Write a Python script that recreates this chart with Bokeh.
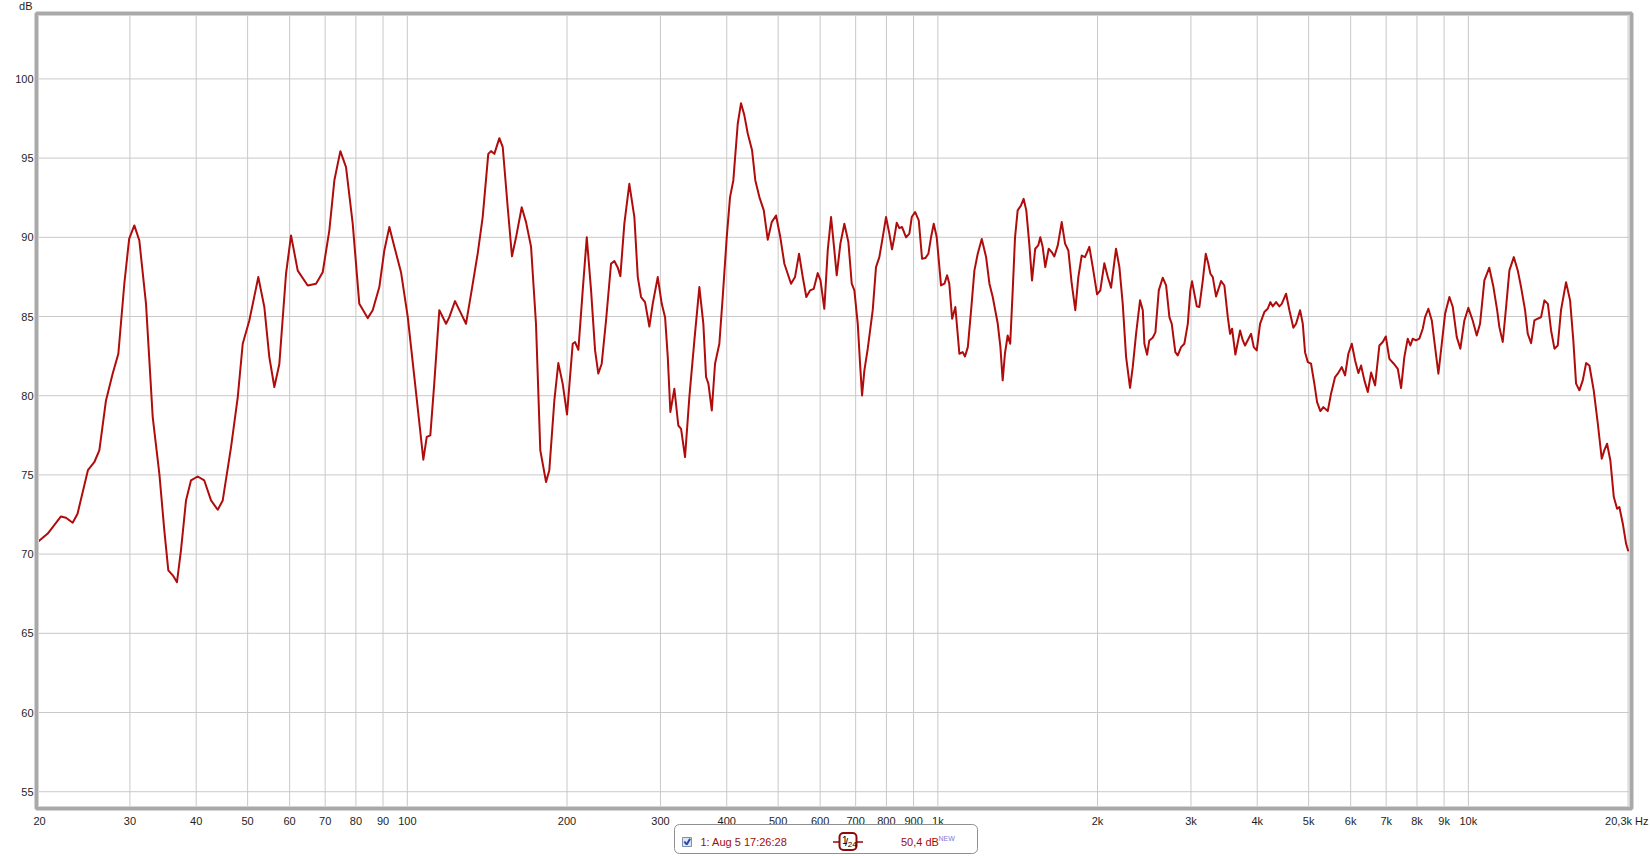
import numpy as np
from bokeh.plotting import figure
from bokeh.models import Range1d, LinearScale
from bokeh.embed import file_html
from bokeh.resources import INLINE
from bokeh.core.properties import value

# ---------------- data ----------------
freq_hz = [
    20.0, 21.0, 22.24, 22.73, 23.4, 23.9, 25.0, 25.7, 26.27, 27.04,
    27.84, 28.53, 29.28, 29.9, 30.58, 31.25, 32.17, 33.12, 34.09, 34.83,
    35.44, 36.13, 36.8, 37.44, 38.27, 39.1, 40.26, 41.43, 42.66, 43.92,
    44.88, 46.53, 47.9, 48.95, 50.37, 52.38, 53.76, 54.94, 56.15, 57.38,
    59.07, 60.37, 62.15, 64.9, 67.29, 69.27, 71.29, 72.86, 74.78, 76.64,
    78.9, 81.19, 84.2, 86.05, 88.56, 90.5, 92.5, 94.53, 97.3, 100.2,
    103.1, 105.4, 107.2, 108.8, 110.5, 112.4, 114.9, 118.3, 120.0, 123.0,
    125.9, 129.0, 131.9, 135.7, 138.7, 142.1, 143.8, 145.9, 149.1, 151.3,
    154.6, 157.5, 160.3, 164.3, 167.4, 171.1, 174.8, 178.1, 182.6, 185.2,
    189.3, 192.6, 196.3, 200.0, 205.0, 207.1, 210.1, 214.1, 217.9, 222.0,
    225.9, 229.1, 232.5, 236.9, 242.1, 245.6, 249.2, 252.1, 256.5, 262.1,
    267.9, 271.9, 275.8, 280.6, 285.9, 290.1, 296.5, 301.7, 306.1, 309.7,
    313.2, 318.7, 324.2, 328.1, 333.8, 340.1, 347.6, 355.2, 361.4, 365.7,
    369.4, 374.9, 380.2, 387.4, 393.1, 400.0, 405.8, 411.6, 419.6, 425.6,
    431.8, 438.3, 446.5, 452.9, 460.9, 469.8, 477.9, 486.3, 495.5, 504.8,
    513.7, 528.8, 538.0, 547.5, 556.4, 565.1, 574.3, 583.6, 593.8, 600.9,
    611.0, 620.1, 629.1, 638.2, 644.8, 655.1, 666.5, 678.2, 688.2, 696.1,
    706.4, 713.5, 719.7, 727.0, 737.7, 753.8, 764.6, 775.8, 787.2, 798.6,
    810.2, 819.7, 827.9, 836.6, 846.1, 856.2, 871.2, 883.7, 893.0, 905.9,
    920.5, 933.8, 947.2, 959.6, 970.9, 982.4, 995.2, 1014, 1029, 1041,
    1051, 1064, 1079, 1098, 1114, 1125, 1139, 1158, 1172, 1189,
    1210, 1233, 1251, 1269, 1297, 1312, 1325, 1338, 1354, 1369,
    1384, 1398, 1414, 1434, 1451, 1468, 1487, 1505, 1526, 1546,
    1560, 1576, 1594, 1618, 1639, 1658, 1683, 1712, 1737, 1762,
    1788, 1816, 1840, 1867, 1894, 1930, 1959, 1996, 2024, 2060,
    2091, 2121, 2167, 2199, 2231, 2264, 2303, 2330, 2364, 2405,
    2434, 2451, 2480, 2504, 2541, 2571, 2609, 2654, 2693, 2732,
    2760, 2803, 2833, 2874, 2915, 2959, 2992, 3014, 3045, 3077,
    3111, 3158, 3199, 3235, 3264, 3298, 3345, 3419, 3468, 3520,
    3555, 3586, 3638, 3713, 3757, 3794, 3894, 3940, 3991, 4049,
    4125, 4186, 4234, 4278, 4341, 4403, 4449, 4533, 4599, 4679,
    4734, 4817, 4874, 4922, 4982, 5052, 5125, 5186, 5261, 5330,
    5432, 5510, 5607, 5673, 5773, 5856, 5940, 6029, 6116, 6204,
    6277, 6368, 6463, 6556, 6671, 6796, 6897, 6988, 7098, 7235,
    7361, 7468, 7574, 7686, 7774, 7855, 7966, 8084, 8204, 8287,
    8406, 8532, 8655, 8780, 8910, 9039, 9210, 9347, 9509, 9659,
    9828, 10000, 10190, 10370, 10520, 10720, 10950, 11150, 11330, 11440,
    11610, 11780, 11950, 12180, 12390, 12570, 12790, 12940, 13130, 13320,
    13510, 13710, 13910, 14120, 14320, 14530, 14740, 14950, 15280, 15550,
    15770, 15960, 16190, 16430, 16670, 16910, 17230, 17540, 17840, 18040,
    18260, 18520, 18800, 19070, 19260, 19550, 19830, 20000,
]
spl_db = [
    70.7, 71.3, 72.38, 72.3, 71.98, 72.55, 75.3, 75.8, 76.55, 79.7,
    81.4, 82.65, 87.07, 89.9, 90.75, 89.8, 85.8, 78.65, 75.07, 71.5,
    68.97, 68.66, 68.23, 70.23, 73.39, 74.65, 74.9, 74.65, 73.39, 72.8,
    73.39, 76.76, 79.9, 83.28, 84.75, 87.49, 85.6, 82.44, 80.55, 82.0,
    87.7, 90.12, 87.9, 86.96, 87.07, 87.8, 90.44, 93.6, 95.44, 94.43,
    90.86, 85.8, 84.9, 85.4, 86.86, 89.17, 90.65, 89.4, 87.8, 84.96,
    81.18, 78.23, 75.96, 77.4, 77.5, 80.76, 85.4, 84.54, 84.96, 85.97,
    85.28, 84.54, 86.44, 88.96, 91.28, 95.27, 95.44, 95.27, 96.26, 95.7,
    91.9, 88.8, 90.0, 91.9, 90.96, 89.4, 84.54, 76.55, 74.55, 75.3,
    79.7, 82.06, 80.75, 78.82, 83.28, 83.39, 82.9, 86.65, 90.0, 86.65,
    82.86, 81.4, 82.02, 84.75, 88.33, 88.5, 88.1, 87.55, 90.86, 93.38,
    91.28, 87.49, 86.23, 85.91, 84.37, 85.8, 87.49, 85.8, 84.96, 82.44,
    78.97, 80.44, 78.12, 77.91, 76.13, 79.91, 83.49, 86.86, 84.54, 81.18,
    80.76, 79.07, 82.02, 83.28, 86.23, 90.0, 92.54, 93.59, 97.17, 98.47,
    97.7, 96.54, 95.49, 93.59, 92.54, 91.7, 89.85, 90.96, 91.38, 90.0,
    88.33, 87.07, 87.49, 88.96, 87.49, 86.23, 86.65, 86.75, 87.74, 87.28,
    85.49, 89.17, 91.28, 89.17, 87.6, 89.6, 90.86, 89.7, 87.07, 86.65,
    84.54, 82.02, 80.02, 81.6, 82.97, 85.4, 88.12, 88.75, 90.0, 91.28,
    90.23, 89.24, 90.0, 90.92, 90.58, 90.65, 90.0, 90.23, 91.28, 91.6,
    91.07, 88.65, 88.69, 88.96, 90.0, 90.86, 90.0, 86.96, 87.07, 87.6,
    87.07, 84.86, 85.6, 82.65, 82.75, 82.48, 83.07, 85.8, 87.91, 88.96,
    89.9, 88.75, 87.07, 86.23, 84.54, 83.07, 80.97, 82.65, 83.8, 83.28,
    86.65, 90.0, 91.7, 92.0, 92.43, 91.7, 89.6, 87.28, 89.28, 89.49,
    90.0, 89.4, 88.12, 89.28, 89.07, 88.79, 89.49, 90.96, 89.6, 89.17,
    87.07, 85.4, 87.49, 88.85, 88.75, 89.4, 88.12, 86.4, 86.65, 88.37,
    87.49, 86.82, 89.28, 88.12, 85.8, 82.44, 80.5, 81.8, 83.9, 86.02,
    85.4, 83.28, 82.59, 83.49, 83.66, 84.0, 86.65, 87.45, 86.96, 84.96,
    84.54, 82.75, 82.54, 83.07, 83.28, 84.54, 86.65, 87.22, 86.44, 85.64,
    85.6, 87.28, 88.96, 88.33, 87.7, 87.49, 86.27, 87.24, 86.96, 84.96,
    83.91, 84.23, 82.6, 84.12, 83.49, 83.17, 83.91, 83.07, 82.86, 84.54,
    85.28, 85.49, 85.91, 85.64, 85.91, 85.64, 85.8, 86.44, 85.4, 84.29,
    84.54, 85.4, 84.54, 82.75, 82.12, 82.02, 80.76, 79.6, 79.03, 79.28,
    79.03, 80.13, 81.18, 81.39, 81.81, 81.28, 82.65, 83.28, 82.23, 81.43,
    81.91, 80.97, 80.23, 81.46, 80.65, 83.17, 83.39, 83.74, 82.33, 82.02,
    81.7, 80.48, 82.44, 83.6, 83.17, 83.6, 83.49, 83.6, 84.23, 84.96,
    85.49, 84.75, 83.07, 81.39, 83.28, 85.17, 86.23, 85.6, 83.7, 82.97,
    84.75, 85.55, 84.75, 83.8, 84.54, 87.28, 88.08, 86.86, 85.4, 84.33,
    83.39, 85.6, 87.91, 88.75, 87.91, 86.86, 85.4, 83.91, 83.32, 84.75,
    84.86, 84.96, 86.02, 85.8, 84.12, 82.97, 83.17, 85.4, 87.17, 86.02,
    83.49, 80.76, 80.34, 80.97, 82.06, 81.91, 80.34, 78.23, 76.02, 76.55,
    76.97, 75.91, 73.6, 72.86, 72.97, 71.92, 70.65, 70.23,
]

x_grid_hz = [30, 40, 50, 60, 70, 80, 90, 100, 200, 300, 400, 500, 600, 700, 800, 900,
             1000, 2000, 3000, 4000, 5000, 6000, 7000, 8000, 9000, 10000, 20000]
x_tick_hz = [20, 30, 40, 50, 60, 70, 80, 90, 100, 200, 300, 400, 500, 600, 700, 800, 900,
             1000, 2000, 3000, 4000, 5000, 6000, 7000, 8000, 9000, 10000]
x_tick_labels = ["20", "30", "40", "50", "60", "70", "80", "90", "100", "200", "300", "400",
                 "500", "600", "700", "800", "900", "1k", "2k", "3k", "4k", "5k", "6k", "7k",
                 "8k", "9k", "10k"]
y_ticks_db = [55, 60, 65, 70, 75, 80, 85, 90, 95, 100]
y_tick_labels = [str(v) for v in y_ticks_db]
y_unit_label = "dB"
x_end_label = "20,3k Hz"
legend_name = "1: Aug 5 17:26:28"
legend_level = "50,4 dB"
legend_badge = "NEW"

# ---------------- canvas geometry ----------------
F_MIN, F_MAX = 20.0, 20300.0          # axis extent of the plot box
DB_MIN, DB_MAX = 53.94, 104.13
W, H = 1650, 856
BOX_L, BOX_R, BOX_T, BOX_B = 36, 1631, 13, 808   # plot box edges on the canvas

decade_px = (BOX_R - BOX_L) / np.log10(F_MAX / F_MIN)
x_lo = F_MIN / 10 ** (BOX_L / decade_px)
x_hi = F_MAX * 10 ** ((W - BOX_R) / decade_px)
db_per_px = (DB_MAX - DB_MIN) / (BOX_B - BOX_T)
y_lo = DB_MIN - (H - BOX_B) * db_per_px
y_hi = DB_MAX + BOX_T * db_per_px

FONT = "Liberation Sans"
CURVE = "#b00c0c"
GRID = "#c9c9c9"
FRAME = "#a9a9a9"
TXT = "#1e1e1e"
LEG_RED = "#a00c0c"

p = figure(width=W, height=H, x_axis_type="log", x_axis_location=None, y_axis_location=None,
           x_range=Range1d(x_lo, x_hi), y_range=Range1d(y_lo, y_hi),
           output_backend="svg", toolbar_location=None, min_border=0)
p.grid.visible = False
p.outline_line_color = None
p.background_fill_color = "white"
p.border_fill_color = "white"
p.extra_x_ranges = {"px": Range1d(0, W)}
p.extra_y_ranges = {"px": Range1d(H, 0)}
p.extra_x_scales = {"px": LinearScale()}
p.extra_y_scales = {"px": LinearScale()}

# grid
nx, ny = len(x_grid_hz), len(y_ticks_db)
p.segment(x0=x_grid_hz, y0=[DB_MIN] * nx, x1=x_grid_hz, y1=[DB_MAX] * nx,
          line_color=GRID, line_width=1)
p.segment(x0=[F_MIN] * ny, y0=y_ticks_db, x1=[F_MAX] * ny, y1=y_ticks_db,
          line_color=GRID, line_width=1)

# curve
p.line(freq_hz, spl_db, line_color=CURVE, line_width=2, line_join="round", line_cap="round")

# plot box frame
p.quad(left=[F_MIN], right=[F_MAX], bottom=[DB_MIN], top=[DB_MAX], fill_color=None,
       line_color="#d4d4d4", line_width=5)
p.quad(left=[F_MIN], right=[F_MAX], bottom=[DB_MIN], top=[DB_MAX], fill_color=None,
       line_color=FRAME, line_width=3)

# tick labels
txt_kw = dict(text_font=value(FONT), text_font_size="11px", text_baseline="middle", text_color=TXT)
p.text(x=[F_MIN] * ny, y=y_ticks_db, text=y_tick_labels, text_align="right", x_offset=-3, **txt_kw)
p.text(x=[F_MIN], y=[DB_MAX], text=[y_unit_label], text_align="right", x_offset=-4, y_offset=-8,
       **txt_kw)
p.text(x=x_tick_hz[:1], y=[DB_MIN], text=x_tick_labels[:1], text_align="center",
       x_offset=3, y_offset=12, **txt_kw)
p.text(x=x_tick_hz[1:], y=[DB_MIN] * (len(x_tick_hz) - 1), text=x_tick_labels[1:],
       text_align="center", y_offset=12, **txt_kw)
p.text(x=[F_MAX], y=[DB_MIN], text=[x_end_label], text_align="right", x_offset=17, y_offset=12,
       **txt_kw)

# legend (canvas pixel coordinates)
px = dict(x_range_name="px", y_range_name="px")
LY = 841.5
p.quad(left=[674], right=[977], top=[824], bottom=[853], fill_color="white",
       line_color="#8f8f8f", line_width=1, border_radius=5, **px)
p.quad(left=[682], right=[691], top=[LY - 4.5], bottom=[LY + 4.5], fill_color="#dce6f5",
       line_color="#7f8fb0", line_width=1, **px)
p.line(x=[683.8, 686.2, 689.6], y=[LY - 0.5, LY + 2.5, LY - 3.2], line_color="#2b4aa8",
       line_width=2, **px)
p.text(x=[700], y=[LY], text=[legend_name], text_align="left",
       text_font=value(FONT), text_font_size="11px", text_baseline="middle",
       text_color=LEG_RED, **px)
p.segment(x0=[832.5], y0=[LY], x1=[862.5], y1=[LY], line_color="#8c0a0a", line_width=1.5, **px)
p.quad(left=[839], right=[856], top=[LY - 9], bottom=[LY + 8], fill_color="white",
       line_color="#8c0a0a", line_width=2, border_radius=4, **px)
p.text(x=[841.5], y=[LY - 2.5], text=["1"], text_align="left", text_color="black",
       text_font=value(FONT), text_font_size="10px", text_baseline="middle", **px)
p.text(x=[844.5], y=[LY], text=["/"], text_align="left", text_color="black",
       text_font=value(FONT), text_font_size="11px", text_baseline="middle", **px)
p.text(x=[847.2], y=[LY + 2], text=["24"], text_align="left", text_color="black",
       text_font=value(FONT), text_font_size="8px", text_baseline="middle", **px)
p.text(x=[900.5], y=[LY], text=[legend_level], text_align="left",
       text_font=value(FONT), text_font_size="11px", text_baseline="middle",
       text_color=LEG_RED, **px)
p.text(x=[938], y=[LY - 4], text=[legend_badge], text_align="left", text_color="#7a7ae0",
       text_font=value(FONT), text_font_size="7px", text_baseline="middle", **px)

open("out.html", "w").write(file_html(p, INLINE))
